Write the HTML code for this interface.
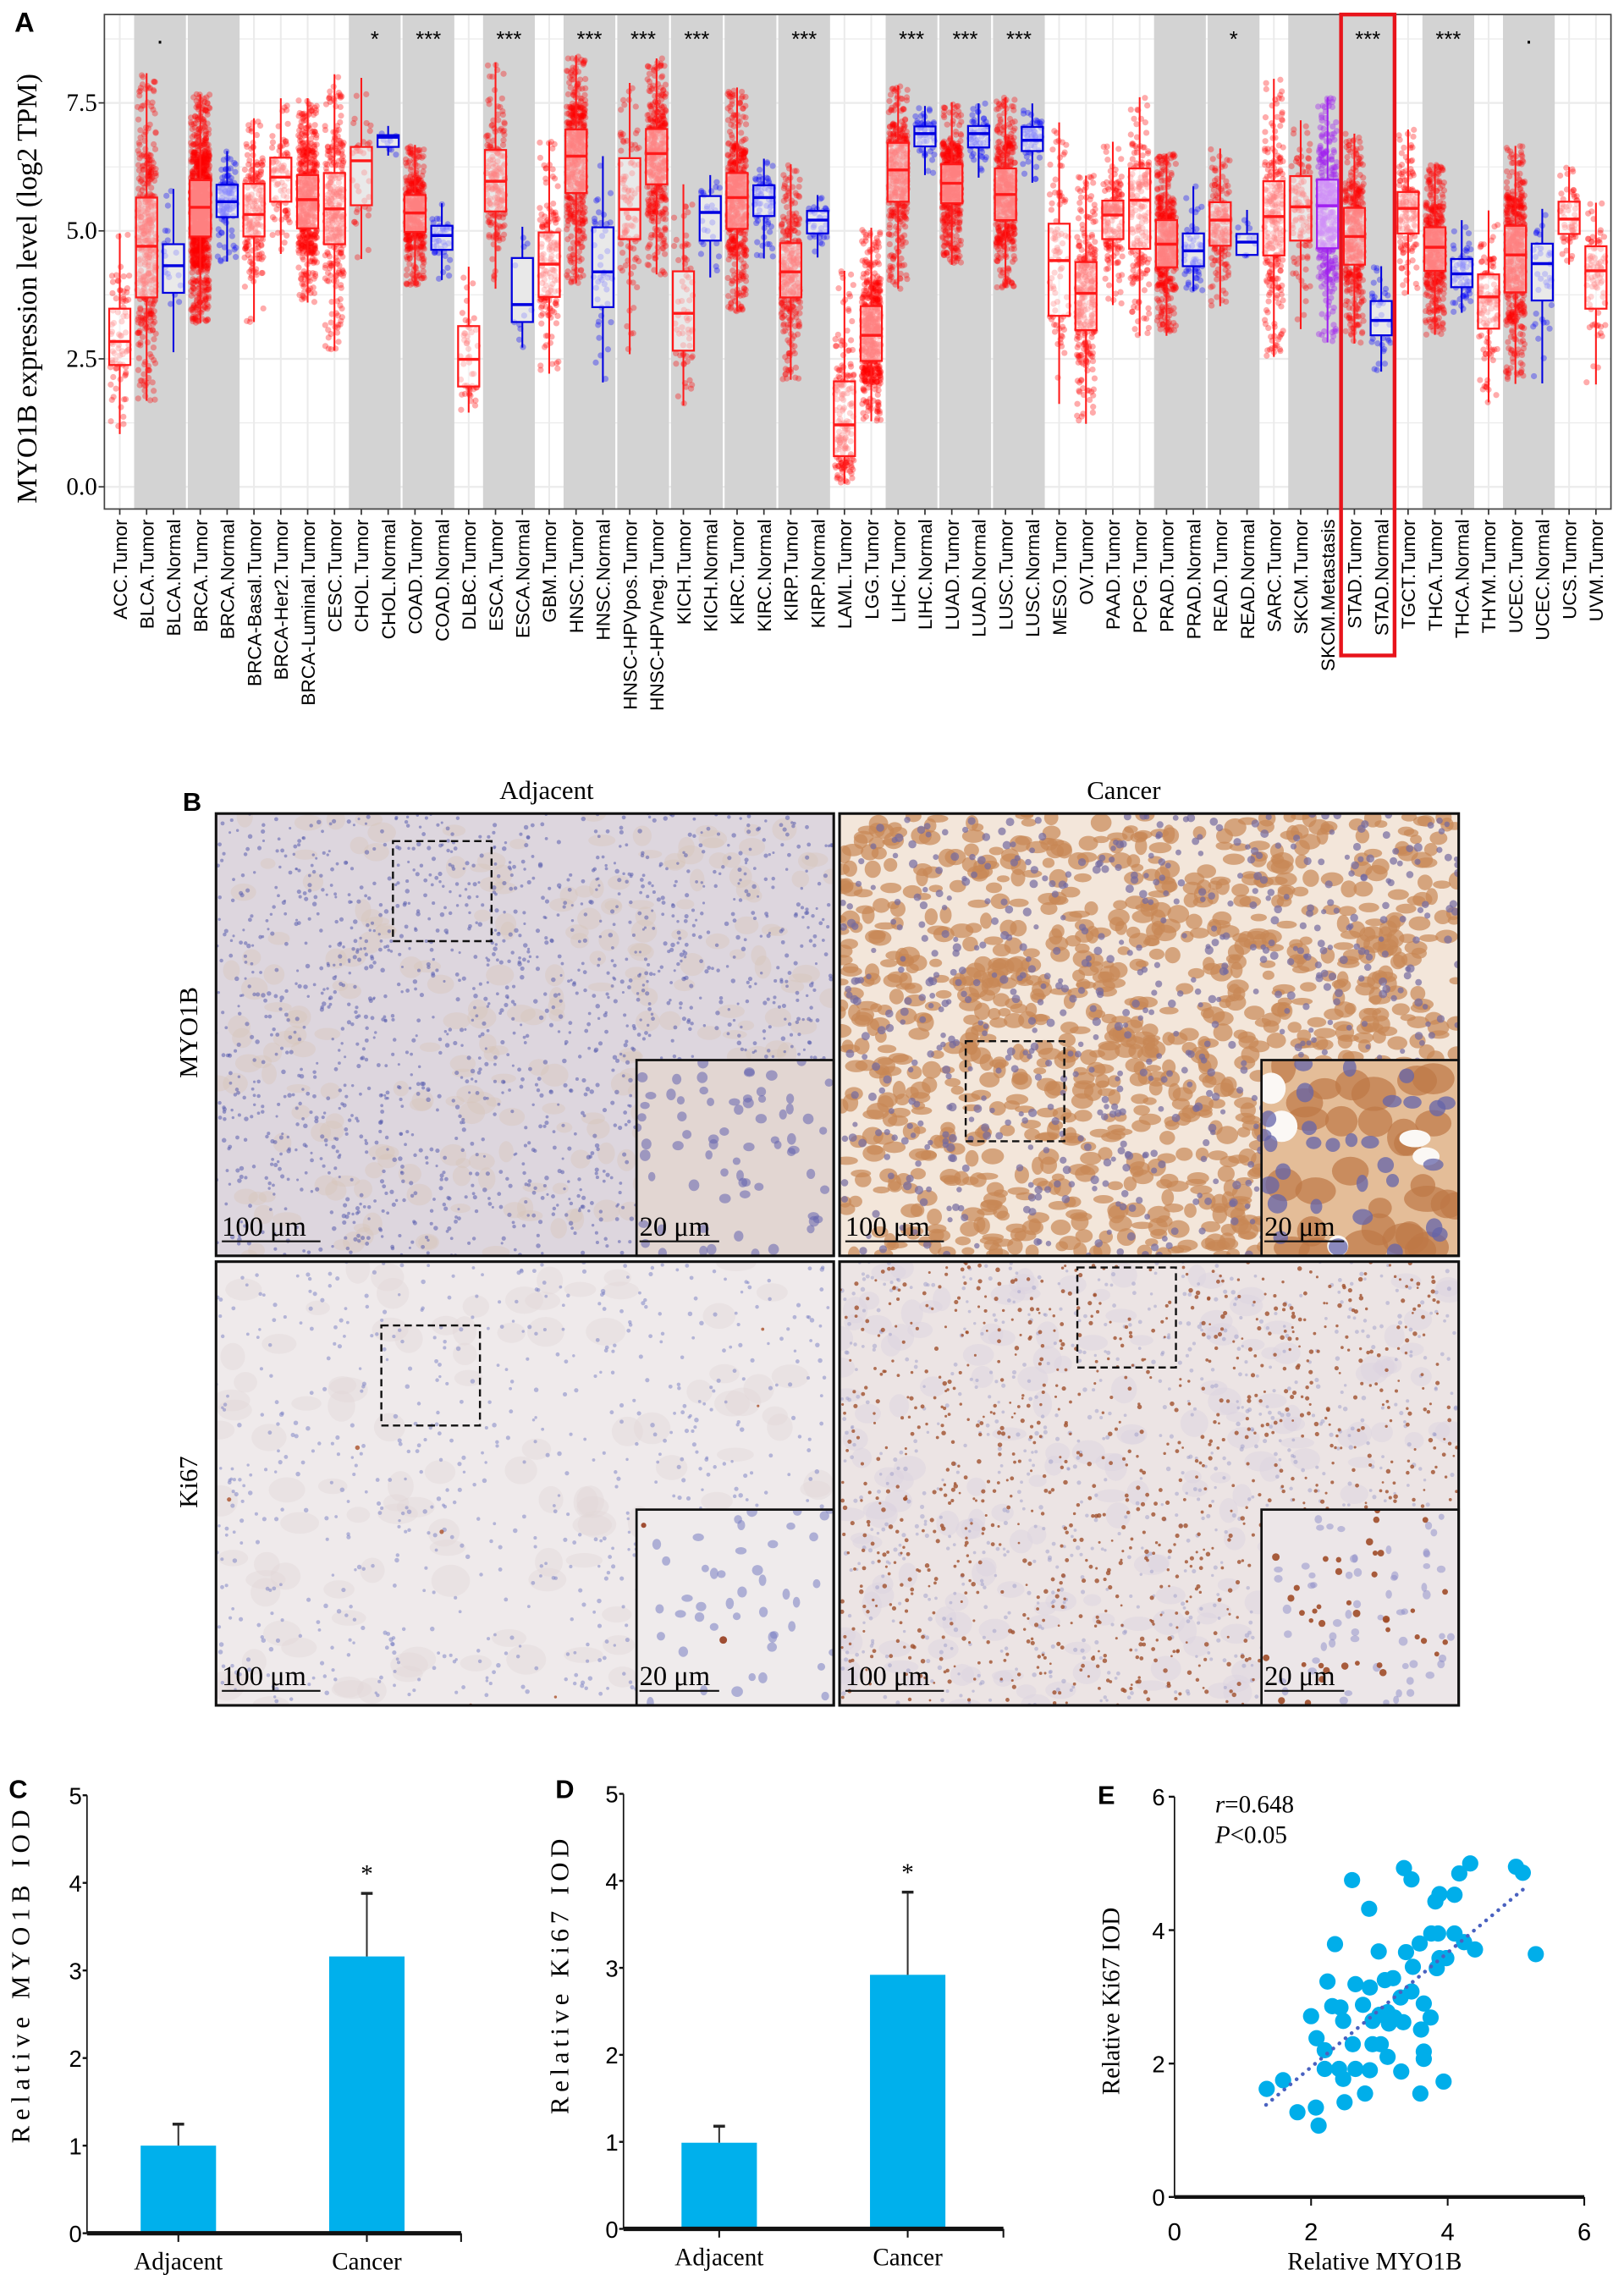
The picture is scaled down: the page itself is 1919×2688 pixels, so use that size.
<!DOCTYPE html>
<html><head><meta charset="utf-8"><title>MYO1B figure</title>
<style>html,body{margin:0;padding:0;background:#fff}svg{display:block}</style></head>
<body>
<svg id="fig" xmlns="http://www.w3.org/2000/svg" width="1919" height="2688" viewBox="0 0 1120 1568.8">
<defs id="defs"></defs>
<rect x="0" y="0" width="1120" height="1568.8" fill="#fff"/>
<g id="panelA"></g>
<g id="panelB"></g>
<g id="panelC"></g>
<g id="panelD"></g>
<g id="panelE"></g>
</svg>
<script>
// ===== Panel A data =====
const categories = ["ACC.Tumor","BLCA.Tumor","BLCA.Normal","BRCA.Tumor","BRCA.Normal","BRCA-Basal.Tumor","BRCA-Her2.Tumor","BRCA-Luminal.Tumor","CESC.Tumor","CHOL.Tumor","CHOL.Normal","COAD.Tumor","COAD.Normal","DLBC.Tumor","ESCA.Tumor","ESCA.Normal","GBM.Tumor","HNSC.Tumor","HNSC.Normal","HNSC-HPVpos.Tumor","HNSC-HPVneg.Tumor","KICH.Tumor","KICH.Normal","KIRC.Tumor","KIRC.Normal","KIRP.Tumor","KIRP.Normal","LAML.Tumor","LGG.Tumor","LIHC.Tumor","LIHC.Normal","LUAD.Tumor","LUAD.Normal","LUSC.Tumor","LUSC.Normal","MESO.Tumor","OV.Tumor","PAAD.Tumor","PCPG.Tumor","PRAD.Tumor","PRAD.Normal","READ.Tumor","READ.Normal","SARC.Tumor","SKCM.Tumor","SKCM.Metastasis","STAD.Tumor","STAD.Normal","TGCT.Tumor","THCA.Tumor","THCA.Normal","THYM.Tumor","UCEC.Tumor","UCEC.Normal","UCS.Tumor","UVM.Tumor"];
const q3Values = [3.48,5.65,4.74,5.99,5.9,5.92,6.43,6.09,6.13,6.64,6.87,5.7,5.1,3.14,6.58,4.47,4.97,6.98,5.07,6.42,6.99,4.21,5.68,6.13,5.89,4.76,5.39,2.06,3.53,6.72,7.04,6.3,7.05,6.22,7.03,5.14,4.39,5.59,6.22,5.21,4.95,5.56,4.94,5.97,6.07,6.0,5.45,3.63,5.76,5.07,4.45,4.15,5.1,4.75,5.57,4.7];
const medianValues = [2.84,4.7,4.32,5.46,5.57,5.32,6.05,5.61,5.43,6.37,6.83,5.35,4.91,2.49,5.97,3.56,4.35,6.46,4.2,5.42,6.51,3.39,5.36,5.65,5.65,4.2,5.21,1.21,2.96,6.19,6.9,5.93,6.9,5.71,6.77,4.42,3.78,5.31,5.6,4.74,4.61,5.21,4.78,5.28,5.47,5.49,4.89,3.25,5.44,4.68,4.16,3.71,4.53,4.36,5.23,4.22];
const q1Values = [2.38,3.7,3.79,4.89,5.27,4.89,5.57,5.05,4.74,5.5,6.64,4.98,4.63,1.96,5.38,3.22,3.71,5.74,3.51,4.84,5.91,2.66,4.81,5.04,5.29,3.7,4.95,0.6,2.46,5.57,6.65,5.54,6.63,5.21,6.56,3.34,3.06,4.84,4.65,4.29,4.31,4.71,4.53,4.52,4.81,4.66,4.34,2.96,4.95,4.22,3.9,3.09,3.8,3.64,4.94,3.48];
const whiskerLow = [1.03,1.68,2.63,3.2,4.4,3.22,4.55,3.6,2.66,4.45,6.47,3.94,4.04,1.45,3.87,2.72,2.21,3.98,2.04,2.59,4.15,1.59,4.09,3.43,4.46,2.09,4.48,0.06,1.28,3.87,6.09,4.34,6.04,3.89,5.94,1.62,1.23,3.55,2.95,2.95,3.82,3.53,4.5,2.54,3.08,2.82,2.8,2.25,3.76,2.97,3.4,1.65,2.01,2.02,4.34,2.0];
const whiskerHigh = [4.95,8.08,5.82,7.67,6.56,7.2,7.59,7.59,8.06,7.99,7.05,6.68,5.54,4.3,8.29,5.08,6.74,8.43,6.46,7.89,8.37,5.91,6.09,7.8,6.41,6.3,5.7,4.22,5.06,7.84,7.44,7.51,7.49,7.61,7.49,7.12,6.08,6.74,7.61,6.51,5.87,6.61,5.41,7.97,7.16,7.61,6.9,4.31,6.98,6.3,5.21,5.4,6.66,5.43,6.25,5.55];
const sampleCounts = [79,408,19,1093,112,190,82,566,304,36,9,457,41,48,184,11,153,520,44,97,421,66,25,533,72,290,32,173,516,371,50,515,59,501,51,87,303,178,179,497,52,166,10,259,103,368,415,35,150,501,59,120,545,35,57,80];
const grayPairStarts = [1,3,9,11,14,17,19,21,23,25,29,31,33,39,41,44,46,49,52];
const sigIndex = [1,9,11,14,17,19,21,25,29,31,33,41,46,49,52];
const sigLabels = [".","*","***","***","***","***","***","***","***","***","***","*","***","***","."];
const yTicksA = [0,2.5,5,7.5];
const yTickLabelsA = ["0.0","2.5","5.0","7.5"];
const highlightIndex = 46;

// ===== Panels C/D/E data =====
const barCategories = ["Adjacent","Cancer"];
const myo1bMeans = [1.0,3.16];
const myo1bErrors = [0.245,0.72];
const ki67Means = [0.99,2.92];
const ki67Errors = [0.19,0.95];
const barTicks = [0,1,2,3,4,5];
const scatterTicks = [0,2,4,6];
const scatterX = [1.35,1.59,1.80,2.07,2.11,2.35,2.6,2.85,2.99,2.0,2.08,2.2,2.2,2.24,2.31,2.43,2.47,2.41,2.47,2.49,2.61,2.65,2.65,2.76,2.86,2.79,2.86,2.9,2.9,3.02,3.12,3.08,3.2,3.12,3.14,3.31,3.35,3.47,3.32,3.39,3.49,3.59,3.65,3.75,3.61,3.65,3.65,3.6,3.36,3.47,3.76,3.86,4.1,4.24,4.4,3.88,3.98,3.84,3.82,3.88,4.1,4.17,4.33,5.0,5.1,5.29,3.94,3.0,3.22];
const scatterY = [1.62,1.75,1.27,1.34,1.07,3.79,4.75,4.32,3.68,2.71,2.38,2.2,1.92,3.23,2.86,2.84,2.64,1.92,1.77,1.42,2.29,1.92,3.19,2.88,3.14,1.55,1.9,2.29,2.64,2.29,2.1,3.25,3.28,2.77,2.6,2.99,2.62,3.08,1.88,3.67,3.45,3.8,2.9,2.69,2.51,2.18,2.07,1.55,4.93,4.76,3.95,3.95,3.95,3.82,3.71,3.58,3.58,3.43,4.43,4.54,4.53,4.85,5.0,4.95,4.86,3.64,1.73,2.73,2.69];
const trendX = [1.34,5.15];
const trendY = [1.38,4.65];

const NS = "http://www.w3.org/2000/svg";
function mk(tag, attrs, parent){
  const e = document.createElementNS(NS, tag);
  for (const k in attrs) e.setAttribute(k, attrs[k]);
  parent.appendChild(e);
  return e;
}
function txt(str, attrs, parent){ const t = mk("text", attrs, parent); t.textContent = str; return t; }
function rng(seed){ let a = seed>>>0; return function(){ a = (a + 0x6D2B79F5)>>>0; let t = a; t = Math.imul(t ^ t>>>15, t|1); t ^= t + Math.imul(t ^ t>>>7, t|61); return ((t ^ t>>>14)>>>0)/4294967296; }; }
const SERIF = "'Liberation Serif', serif";
const SANS = "'Liberation Sans', sans-serif";

// ===== Panel A =====
(function(){
  const g = document.getElementById("panelA");
  const L = 72, R = 1111, T = 10, B = 351;
  const xA = i => 82.6 + i*18.51;
  const yA = v => 335.7 - v*35.3;
  const t = txt("A", {x:10, y:22, "font-family":SANS, "font-size":19, "font-weight":"bold"}, g);
  
  
  const bg = mk("rect", {x:L, y:T, width:R-L, height:B-T, fill:"#fff"}, g);
  
  
  for (let v = 0; v <= 8.75; v += 1.25) {
    const major = Math.abs(v/2.5 - Math.round(v/2.5)) < 1e-6;
    const gl = mk("line", {x1:L, x2:R, y1:yA(v), y2:yA(v), stroke: "#ebebeb", "stroke-width": major?1.3:0.7}, g);
    
    
  }
  categories.forEach((c,i)=>{
    const gl = mk("line", {x1:xA(i), x2:xA(i), y1:T, y2:B, stroke:"#ebebeb", "stroke-width":1.2}, g);
    
    
  });
  grayPairStarts.forEach(i=>{
    const r = mk("rect", {x:xA(i)-8.6, y:T, width:xA(i+1)-xA(i)+17.2, height:B-T, fill:"#d3d3d3"}, g);
    
    
  });
  const colors = {T:"rgba(255,0,0,0.33)", N:"rgba(0,0,255,0.33)", M:"rgba(160,32,240,0.38)"};
  const strokes = {T:"#ff1a1a", N:"#0000e0", M:"#a020f0"};
  const typeOf = c => c.endsWith("Normal") ? "N" : (c.endsWith("Metastasis") ? "M" : "T");
  categories.forEach((c,i)=>{
    const ty = typeOf(c);
    const pg = mk("g", {fill:colors[ty]}, g);
    
    
    const r = rng(1000 + i*7919);
    const knotsU = [0,0.1,0.25,0.5,0.75,0.9,1];
    const knotsV = [whiskerLow[i], q1Values[i]-(q1Values[i]-whiskerLow[i])*0.35, q1Values[i], medianValues[i], q3Values[i], q3Values[i]+(whiskerHigh[i]-q3Values[i])*0.35, whiskerHigh[i]];
    const n = sampleCounts[i];
    let html = "";
    for (let k=0;k<n;k++){
      const u = r();
      let v = knotsV[0];
      for (let s=1;s<knotsU.length;s++){ if (u<=knotsU[s]) { const f=(u-knotsU[s-1])/(knotsU[s]-knotsU[s-1]); v = knotsV[s-1]+f*(knotsV[s]-knotsV[s-1]); break; } }
      const jx = xA(i) + (r()-0.5)*13;
      html += '<circle cx="'+jx.toFixed(1)+'" cy="'+yA(v).toFixed(1)+'" r="2.1"/>';
    }
    pg.innerHTML = html;
  });
  categories.forEach((c,i)=>{
    const ty = typeOf(c);
    const bx = mk("g", {stroke:strokes[ty], fill:"none"}, g);
    
    
    const x = xA(i);
    mk("line", {x1:x, x2:x, y1:yA(whiskerHigh[i]), y2:yA(q3Values[i]), "stroke-width":1.2}, bx);
    mk("line", {x1:x, x2:x, y1:yA(q1Values[i]), y2:yA(whiskerLow[i]), "stroke-width":1.2}, bx);
    mk("rect", {x:x-7.3, y:yA(q3Values[i]), width:14.6, height:yA(q1Values[i])-yA(q3Values[i]), fill:"rgba(255,255,255,0.5)", "stroke-width":1.3}, bx);
    mk("line", {x1:x-7.3, x2:x+7.3, y1:yA(medianValues[i]), y2:yA(medianValues[i]), "stroke-width":2}, bx);
  });
  const fr = mk("rect", {x:L, y:T, width:R-L, height:B-T, fill:"none", stroke:"#444", "stroke-width":1}, g);
  
  
  sigIndex.forEach((idx,k)=>{
    const s = txt(sigLabels[k], {x:(xA(idx)+xA(idx+1))/2, y:sigLabels[k]==="."?30:32, "text-anchor":"middle", "font-family":SANS, "font-size":sigLabels[k]==="."?18:15}, g);
    
    
  });
  yTicksA.forEach((v,k)=>{
    const tk = mk("line", {x1:L-4, x2:L, y1:yA(v), y2:yA(v), stroke:"#333", "stroke-width":1}, g);
    
    
    const lb = txt(yTickLabelsA[k], {x:L-5, y:yA(v)+5.5, "text-anchor":"end", "font-family":SERIF, "font-size":17}, g);
    
    
  });
  const yt = txt("MYO1B expression level (log2 TPM)", {x:0, y:0, transform:"translate(25,199) rotate(-90)", "text-anchor":"middle", "font-family":SERIF, "font-size":19.5}, g);
  
  
  categories.forEach((c,i)=>{
    const tk = mk("line", {x1:xA(i), x2:xA(i), y1:B, y2:B+4, stroke:"#333", "stroke-width":1}, g);
    
    
    const lb = txt(c, {x:0, y:0, transform:"translate("+(xA(i)+4.8)+","+(B+7)+") rotate(-90)", "text-anchor":"end", "font-family":SANS, "font-size":13.2}, g);
    
    
  });
  const hl = mk("rect", {x:xA(highlightIndex)-9.2, y:T, width:xA(highlightIndex+1)-xA(highlightIndex)+18.4, height:442, fill:"none", stroke:"#e8141b", "stroke-width":2.6}, g);
  
  
})();

// ===== Panel B (IHC micrographs, decorative textures) =====
(function(){
  const g = document.getElementById("panelB");
  const defs = document.getElementById("defs");
  const lb = txt("B", {x:126, y:559, "font-family":SANS, "font-size":18, "font-weight":"bold"}, g);
  
  
  const c1 = txt("Adjacent", {x:377, y:551, "text-anchor":"middle", "font-family":SERIF, "font-size":18}, g);
  
  
  const c2 = txt("Cancer", {x:775, y:551, "text-anchor":"middle", "font-family":SERIF, "font-size":18}, g);
  
  
  const r1 = txt("MYO1B", {x:0, y:0, transform:"translate(136,712) rotate(-90)", "text-anchor":"middle", "font-family":SERIF, "font-size":18}, g);
  
  
  const r2 = txt("Ki67", {x:0, y:0, transform:"translate(136,1022) rotate(-90)", "text-anchor":"middle", "font-family":SERIF, "font-size":18}, g);
  
  

  const panels = [
    {name:"myo1b-adjacent", x:149, y:561, w:426, h:305, base:"#ddd6de", blob:"rgba(214,195,180,0.35)", nb:260, blobR:[5,10], nuc:"rgba(90,95,175,0.55)", nn:1700, nucR:[0.9,1.6], dots:null, nd:0, inset:{x:439,y:731}, insBase:"#e2d6d2", insNuc:"rgba(100,100,175,0.55)", insN:70, insNucR:[2.5,4], insDots:null, dash:{x:271,y:580}},
    {name:"myo1b-cancer", x:579, y:561, w:427, h:305, base:"#f3e6da", blob:"rgba(200,135,85,0.7)", nb:1100, blobR:[4,8], nuc:"rgba(115,105,160,0.7)", nn:700, nucR:[1.8,3], dots:null, nd:0, inset:{x:870,y:731}, insBase:"#e4bd98", insNuc:"rgba(100,100,170,0.75)", insN:30, insNucR:[4,7], insDots:null, dash:{x:666,y:718}},
    {name:"ki67-adjacent", x:149, y:870, w:426, h:306, base:"#efeaeb", blob:"rgba(225,215,215,0.4)", nb:120, blobR:[8,14], nuc:"rgba(120,125,195,0.5)", nn:700, nucR:[1,1.6], dots:"rgba(170,80,40,0.8)", nd:10, inset:{x:439,y:1041}, insBase:"#efebec", insNuc:"rgba(120,125,195,0.55)", insN:45, insNucR:[2.5,4], insDots:"rgba(150,60,30,0.9)", dash:{x:263,y:914}},
    {name:"ki67-cancer", x:579, y:870, w:427, h:306, base:"#ece4e4", blob:"rgba(220,210,225,0.45)", nb:200, blobR:[6,12], nuc:"rgba(150,150,200,0.45)", nn:800, nucR:[1,1.6], dots:"rgba(160,80,45,0.8)", nd:1100, inset:{x:870,y:1041}, insBase:"#ece6e8", insNuc:"rgba(140,140,200,0.5)", insN:60, insNucR:[2,3.2], insDots:"rgba(160,75,40,0.9)", dash:{x:743,y:874}}
  ];
  panels.forEach((p,pi)=>{
    const ix = p.inset.x, iy = p.inset.y, iw = p.x+p.w-ix, ih = p.y+p.h-iy;
    const cp = mk("clipPath", {id:"clipMain"+pi}, defs);
    mk("rect", {x:p.x, y:p.y, width:p.w, height:p.h}, cp);
    const cpi = mk("clipPath", {id:"clipIns"+pi}, defs);
    mk("rect", {x:ix, y:iy, width:iw, height:ih}, cpi);
    const pg = mk("g", {}, g);
    
    
    const r = rng(555 + pi*97);
    const rand = (a,b)=>a+(b-a)*r();
    let html = '<g clip-path="url(#clipMain'+pi+')"><rect x="'+p.x+'" y="'+p.y+'" width="'+p.w+'" height="'+p.h+'" fill="'+p.base+'"/>';
    for (let k=0;k<p.nb;k++) html += '<ellipse cx="'+rand(p.x,p.x+p.w).toFixed(1)+'" cy="'+rand(p.y,p.y+p.h).toFixed(1)+'" rx="'+rand(p.blobR[0],p.blobR[1]).toFixed(1)+'" ry="'+rand(p.blobR[0]*0.6,p.blobR[1]*0.8).toFixed(1)+'" fill="'+p.blob+'"/>';
    for (let k=0;k<p.nn;k++) html += '<circle cx="'+rand(p.x,p.x+p.w).toFixed(1)+'" cy="'+rand(p.y,p.y+p.h).toFixed(1)+'" r="'+rand(p.nucR[0],p.nucR[1]).toFixed(1)+'" fill="'+p.nuc+'"/>';
    for (let k=0;k<p.nd;k++) html += '<circle cx="'+rand(p.x,p.x+p.w).toFixed(1)+'" cy="'+rand(p.y,p.y+p.h).toFixed(1)+'" r="'+rand(0.8,1.6).toFixed(1)+'" fill="'+p.dots+'"/>';
    html += '</g><g clip-path="url(#clipIns'+pi+')">';
    html += '<rect x="'+ix+'" y="'+iy+'" width="'+iw+'" height="'+ih+'" fill="'+p.insBase+'"/>';
    if (pi===1) { for (let k=0;k<30;k++) html += '<ellipse cx="'+rand(ix,ix+iw).toFixed(1)+'" cy="'+rand(iy,iy+ih).toFixed(1)+'" rx="'+rand(8,16).toFixed(1)+'" ry="'+rand(7,13).toFixed(1)+'" fill="rgba(190,120,70,0.7)"/>'; for (let k=0;k<5;k++) html += '<ellipse cx="'+rand(ix,ix+iw).toFixed(1)+'" cy="'+rand(iy,iy+ih).toFixed(1)+'" rx="'+rand(6,11).toFixed(1)+'" ry="'+rand(6,11).toFixed(1)+'" fill="#fbf8f5"/>'; }
    for (let k=0;k<p.insN;k++) html += '<ellipse cx="'+rand(ix,ix+iw).toFixed(1)+'" cy="'+rand(iy,iy+ih).toFixed(1)+'" rx="'+rand(p.insNucR[0],p.insNucR[1]).toFixed(1)+'" ry="'+rand(p.insNucR[0],p.insNucR[1]).toFixed(1)+'" fill="'+p.insNuc+'"/>';
    if (p.insDots) { const nn = pi===3?40:2; for (let k=0;k<nn;k++) html += '<circle cx="'+rand(ix,ix+iw).toFixed(1)+'" cy="'+rand(iy,iy+ih).toFixed(1)+'" r="'+rand(1.5,2.6).toFixed(1)+'" fill="'+p.insDots+'"/>'; }
    html += '</g>';
    html += '<rect x="'+ix+'" y="'+iy+'" width="'+iw+'" height="'+ih+'" fill="none" stroke="#111" stroke-width="1.6"/>';
    html += '<rect x="'+p.dash.x+'" y="'+p.dash.y+'" width="68" height="69" fill="none" stroke="#111" stroke-width="1.4" stroke-dasharray="5,3"/>';
    html += '<rect x="'+p.x+'" y="'+p.y+'" width="'+p.w+'" height="'+p.h+'" fill="none" stroke="#111" stroke-width="1.8"/>';
    pg.innerHTML = html;
    const sb1 = txt("100 μm", {x:p.x+4, y:p.y+p.h-14, "font-family":SERIF, "font-size":19}, g);
    
    
    const sl1 = mk("line", {x1:p.x+4, x2:p.x+72, y1:p.y+p.h-10, y2:p.y+p.h-10, stroke:"#111", "stroke-width":1.2}, g);
    
    
    const sb2 = txt("20 μm", {x:ix+2, y:p.y+p.h-14, "font-family":SERIF, "font-size":19}, g);
    
    
    const sl2 = mk("line", {x1:ix+2, x2:ix+57, y1:p.y+p.h-10, y2:p.y+p.h-10, stroke:"#111", "stroke-width":1.2}, g);
    
    
  });
})();

// ===== Bar charts C & D =====
function barChart(gid, letter, letterX, axisX, endX, y0, pxPerUnit, centers, means, errs, title, titleX, titleLen){
  const g = document.getElementById(gid);
  const y = v => y0 - v*pxPerUnit;
  const lt = txt(letter, {x:letterX, y:1240, "font-family":SANS, "font-size":18, "font-weight":"bold"}, g);
  
  
  const ax = mk("line", {x1:axisX, x2:axisX, y1:y(5), y2:y0, stroke:"#111", "stroke-width":1}, g);
  
  
  barTicks.forEach(v=>{
    const tk = mk("line", {x1:axisX-3, x2:axisX, y1:y(v), y2:y(v), stroke:"#111", "stroke-width":1.4}, g);
    
    
    const tl = txt(String(v), {x:axisX-8, y:y(v)+6, "text-anchor":"middle", "font-family":SANS, "font-size":16}, g);
    
    
  });
  barCategories.forEach((c,i)=>{
    const bar = mk("rect", {x:centers[i]-26, y:y(means[i]), width:52, height:y0-y(means[i]), fill:"#00b0ec"}, g);
    
    
    const eb = mk("line", {x1:centers[i], x2:centers[i], y1:y(means[i]), y2:y(means[i]+errs[i]), stroke:"#333", "stroke-width":1.2}, g);
    
    
    const cap = mk("line", {x1:centers[i]-4, x2:centers[i]+4, y1:y(means[i]+errs[i]), y2:y(means[i]+errs[i]), stroke:"#222", "stroke-width":2}, g);
    
    
    const xt = mk("line", {x1:centers[i], x2:centers[i], y1:y0, y2:y0+6, stroke:"#111", "stroke-width":1.2}, g);
    
    
    const xl = txt(c, {x:centers[i], y:y0+25, "text-anchor":"middle", "font-family":SERIF, "font-size":17}, g);
    
    
  });
  const st = txt("*", {x:centers[1], y:y(means[1]+errs[1])-8, "text-anchor":"middle", "font-family":SERIF, "font-size":17}, g);
  
  
  const bl = mk("line", {x1:axisX, x2:endX, y1:y0, y2:y0, stroke:"#111", "stroke-width":3}, g);
  
  
  const et = mk("line", {x1:endX, x2:endX, y1:y0, y2:y0+6, stroke:"#111", "stroke-width":1.2}, g);
  
  
  const yt = txt(title, {x:0, y:0, transform:"translate("+titleX+",1363) rotate(-90)", "text-anchor":"middle", "font-family":SERIF, "font-size":18, textLength:titleLen, lengthAdjust:"spacing"}, g);
  
  
}
barChart("panelC","C",6,60,318,1540,60.4,[123,253],myo1bMeans,myo1bErrors,"Relative MYO1B IOD",20,230);
barChart("panelD","D",383,430,692,1537,60,[496,626],ki67Means,ki67Errors,"Relative Ki67 IOD",392,190);

// ===== Scatter E =====
(function(){
  const g = document.getElementById("panelE");
  const xE = v => 810 + v*47.1;
  const yE = v => 1515 - v*46;
  const lt = txt("E", {x:757, y:1244, "font-family":SANS, "font-size":18, "font-weight":"bold"}, g);
  
  
  const ax = mk("line", {x1:xE(0), x2:xE(0), y1:yE(6), y2:yE(0), stroke:"#111", "stroke-width":1}, g);
  
  
  scatterTicks.forEach(v=>{
    const tk = mk("line", {x1:xE(0)-4, x2:xE(0), y1:yE(v), y2:yE(v), stroke:"#111", "stroke-width":1.4}, g);
    
    
    const tl = txt(String(v), {x:xE(0)-11, y:yE(v)+6, "text-anchor":"middle", "font-family":SANS, "font-size":16}, g);
    
    
    if (v>0) {
      const xt = mk("line", {x1:xE(v), x2:xE(v), y1:yE(0), y2:yE(0)+6, stroke:"#111", "stroke-width":1.2}, g);
      
      
    }
    const xl = txt(String(v), {x:xE(v), y:yE(0)+30, "text-anchor":"middle", "font-family":SANS, "font-size":17}, g);
    
    
  });
  const bl = mk("line", {x1:xE(0), x2:xE(6), y1:yE(0), y2:yE(0), stroke:"#111", "stroke-width":2.5}, g);
  
  
  scatterX.forEach((vx,i)=>{
    const d = mk("circle", {cx:xE(vx), cy:yE(scatterY[i]), r:5.6, fill:"#00aeea"}, g);
    
    
  });
  const tr = mk("line", {x1:xE(trendX[0]), y1:yE(trendY[0]), x2:xE(trendX[1]), y2:yE(trendY[1]), stroke:"#4a62c0", "stroke-width":2.6, "stroke-dasharray":"0.1,5.4", "stroke-linecap":"round"}, g);
  
  
  const rt = mk("text", {x:838, y:1250, "font-family":SERIF, "font-size":17}, g);
  rt.innerHTML = '<tspan font-style="italic">r</tspan>=0.648';
  
  
  const pt = mk("text", {x:838, y:1271, "font-family":SERIF, "font-size":17}, g);
  pt.innerHTML = '<tspan font-style="italic">P</tspan>&lt;0.05';
  
  
  const xt = txt("Relative MYO1B", {x:948, y:1565, "text-anchor":"middle", "font-family":SERIF, "font-size":17}, g);
  
  
  const yt = txt("Relative Ki67 IOD", {x:0, y:0, transform:"translate(772,1380) rotate(-90)", "text-anchor":"middle", "font-family":SERIF, "font-size":17}, g);
  
  
})();
</script>
</body></html>
